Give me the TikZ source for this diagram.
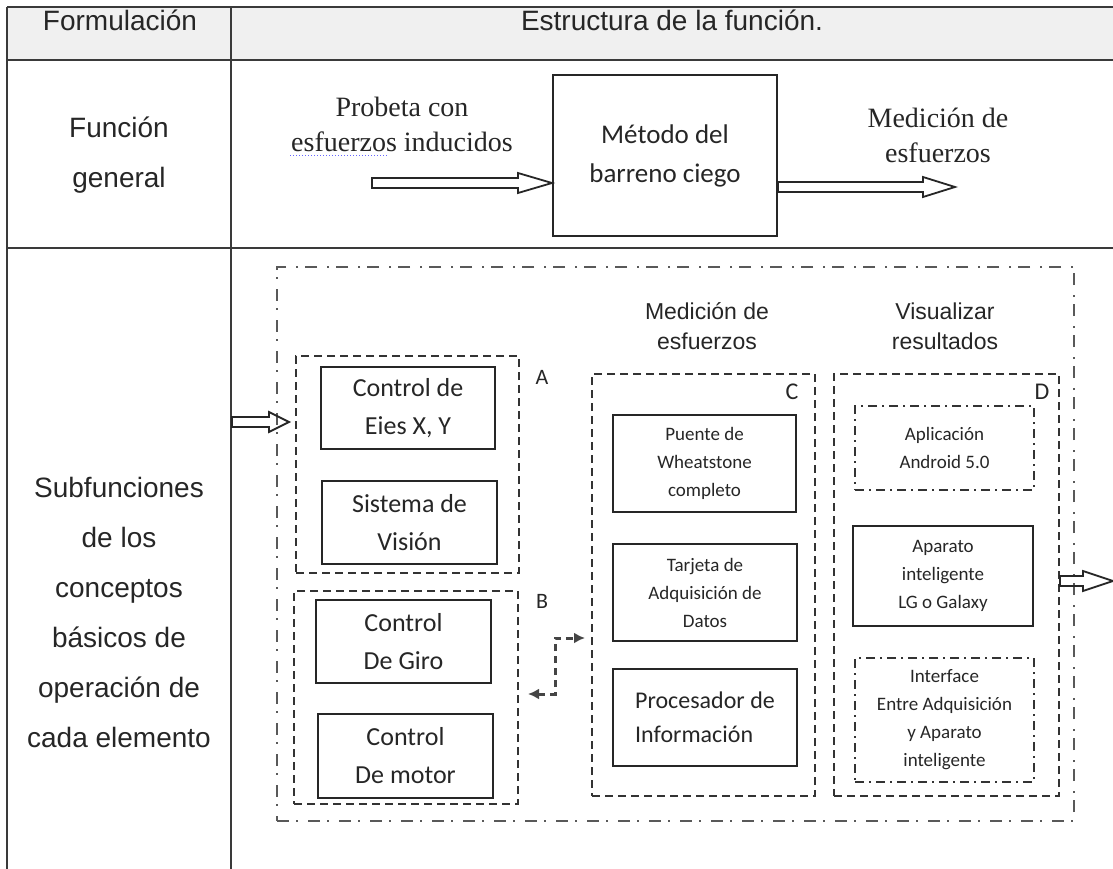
\documentclass[tikz,border=0pt]{standalone}
\usepackage{fontspec}
\setmainfont{Liberation Sans}
\newfontfamily\calibrifont{Carlito}
\newfontfamily\timesfont{Liberation Serif}
\usetikzlibrary{calc, arrows.meta}
\definecolor{rulegray}{HTML}{3A3A3A}
\definecolor{headgray}{HTML}{F0F0F0}
\definecolor{linkgray}{HTML}{454545}
\tikzstyle{tablerule} = [draw=rulegray,line width=1.6pt]
\tikzstyle{headtext} = [font=\fontsize{28}{50}\selectfont,align=center,inner sep=0pt]
\tikzstyle{serifnote} = [font=\timesfont\fontsize{28}{35}\selectfont,align=center,inner sep=0pt]
\tikzstyle{steptext} = [font=\fontsize{23}{30}\selectfont,align=center,inner sep=0pt]
\tikzstyle{blockbox} = [draw=black!85,line width=2pt,inner sep=0pt,align=center,font=\calibrifont\fontsize{19}{28}\selectfont]
\tikzstyle{bigblock} = [blockbox,font=\calibrifont\fontsize{26}{38}\selectfont]
\tikzstyle{groupbox} = [draw=black!80,line width=2pt,dash pattern=on 8pt off 5pt,inner sep=0pt]
\tikzstyle{optbox} = [draw=black!80,line width=2pt,dash pattern=on 9pt off 5pt on 2pt off 5pt,inner sep=0pt,align=center,font=\calibrifont\fontsize{19}{28}\selectfont]
\tikzstyle{framebox} = [draw=black!65,line width=1.5pt,dash pattern=on 12pt off 7pt on 2pt off 10pt,inner sep=0pt]
\tikzstyle{grouplabel} = [font=\calibrifont\fontsize{22}{26}\selectfont,inner sep=0pt]
\tikzstyle{arrowbody} = [draw=black!85,line width=1.8pt,line join=miter]
\tikzstyle{linkarrow} = [draw=linkgray,line width=3pt,dash pattern=on 7pt off 5pt,{Latex[length=11pt,width=11pt]}-{Latex[length=11pt,width=11pt]}]
% hollow block arrow: start, end, head length
\newcommand{\hollowarrow}[3]{%
  \draw[arrowbody] let \p1=(#1), \p2=(#2) in
    (\x1,\y1+5) -- (\x2-#3,\y1+5) -- (\x2-#3,\y1+10) -- (\x2,\y1)
    -- (\x2-#3,\y1-10) -- (\x2-#3,\y1-5) -- (\x1,\y1-5) -- cycle;}

\begin{document}
\begin{tikzpicture}[x=1pt,y=-1pt,every node/.style={text=black!85}]
\useasboundingbox (0,0) rectangle (1113,869);

% table
\fill[headgray] (7,7) rectangle (1113,60);
\draw[tablerule] (7,7) -- (1113,7) (7,60) -- (1113,60) (7,248) -- (1113,248)
  (7,7) -- (7,869) (231,7) -- (231,869);
\node[headtext,anchor=base] (hdform) at (120,31) {Formulación};
\node[headtext,anchor=base] (hdstruct) at (672,31) {Estructura de la función.};
\node[headtext] (fgen) at (119,155) {Función\\general};
\node[headtext] (subf) at (119,612) {Subfunciones\\de los\\conceptos\\básicos de\\operación de\\cada elemento};

% funcion general
\node[blockbox,font=\calibrifont\fontsize{27}{39}\selectfont,minimum width=224,minimum height=161] (metodo) at (665,155.5) {Método del\\barreno ciego};
\node[serifnote] (probeta) at (402,124) {Probeta con\\esfuerzos inducidos};
\node[serifnote] (medsal) at (938,135) {Medición de\\esfuerzos};
\draw[blue!60,dotted,line width=1pt] (290,156) -- (388,156);
\coordinate (inA) at (372,183);
\coordinate (outA) at (955,187);
\hollowarrow{inA}{metodo.west |- inA}{34}
\hollowarrow{metodo.east |- outA}{outA}{32}

% subfunciones
\node[framebox,minimum width=797,minimum height=554] (frame) at (675.5,544) {};
\node[groupbox,minimum width=223,minimum height=217] (grpA) at (407.5,464.5) {};
\node[groupbox,minimum width=224,minimum height=213] (grpB) at (406,697.5) {};
\node[groupbox,minimum width=223,minimum height=422] (grpC) at (703.5,585) {};
\node[groupbox,minimum width=225,minimum height=422] (grpD) at (946.5,585) {};
\node[grouplabel] (lblA) at (542,377) {A};
\node[grouplabel] (lblB) at (542,601) {B};
\node[grouplabel,font=\calibrifont\fontsize{24}{28}\selectfont] (lblC) at (792,392) {C};
\node[grouplabel,font=\calibrifont\fontsize{24}{28}\selectfont] (lblD) at (1042,392) {D};
\node[steptext] (stepmed) at (707,326) {Medición de\\esfuerzos};
\node[steptext] (stepvis) at (945,326) {Visualizar\\resultados};

\node[bigblock,minimum width=174,minimum height=82] (ejes) at (408,408) {Control de\\Eies X, Y};
\node[bigblock,minimum width=175,minimum height=83] (vision) at (409.5,522.5) {Sistema de\\Visión};
\node[bigblock,minimum width=175,minimum height=83] (giro) at (403.5,641.5) {Control\\De Giro};
\node[bigblock,minimum width=175,minimum height=84] (motor) at (405.5,756) {Control\\De motor};

\node[blockbox,minimum width=183,minimum height=97] (puente) at (704.5,463.5) {Puente de\\Wheatstone\\completo};
\node[blockbox,minimum width=184,minimum height=97] (tarjeta) at (705,592.5) {Tarjeta de\\Adquisición de\\Datos};
\node[blockbox,align=left,font=\calibrifont\fontsize{24}{34}\selectfont,minimum width=184,minimum height=97] (proc) at (705,717.5) {Procesador de\\Información};

\node[optbox,minimum width=179,minimum height=84] (android) at (944.5,448) {Aplicación\\Android 5.0};
\node[blockbox,minimum width=180,minimum height=100] (aparato) at (943,576) {Aparato\\inteligente\\LG o Galaxy};
\node[optbox,minimum width=179,minimum height=124] (interfaz) at (944.5,720) {Interface\\Entre Adquisición\\y Aparato\\inteligente};

\coordinate (sfIn) at (232,422);
\coordinate (resOut) at (1113,581);
\hollowarrow{sfIn}{$(grpA.west |- sfIn)+(-6,0)$}{20}
\hollowarrow{grpD.east |- resOut}{resOut}{30}

\coordinate (lnkB) at (528,694);
\coordinate (lnkC) at (585,638);
\draw[linkarrow] (lnkB) -- ++(27,0) |- (lnkC);
\end{tikzpicture}
\end{document}
